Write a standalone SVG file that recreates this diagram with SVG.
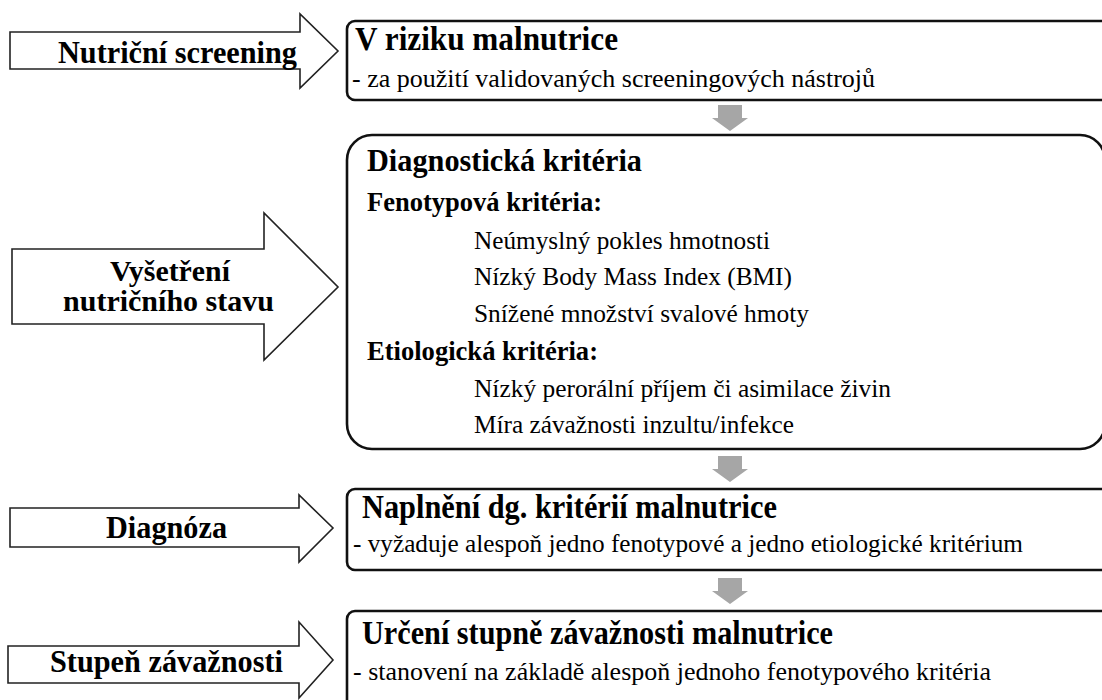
<svg xmlns="http://www.w3.org/2000/svg" width="1102" height="700" viewBox="0 0 1102 700">
<defs>
<path id="down-arrow" d="M-12,0 H12 V13 H18 L0,26 L-18,13 H-12 Z"/>
</defs>
<rect x="0" y="0" width="1102" height="700" fill="#fff"/>
<g id="step-screening">
<path d="M10,32 H300 V14 L338,51 L300,88 V69 H10 Z" fill="#fff" stroke="#222" stroke-width="1.6"/>
<text font-family="Liberation Serif" font-weight="bold" font-size="31" x="58" y="63" textLength="239" lengthAdjust="spacingAndGlyphs">Nutriční screening</text>
</g>
<g id="step-vysetreni">
<path d="M12,249 H264 V213 L338,287 L264,360 V324 H12 Z" fill="#fff" stroke="#222" stroke-width="1.6"/>
<text font-family="Liberation Serif" font-weight="bold" font-size="29" x="110" y="281" textLength="120" lengthAdjust="spacingAndGlyphs">Vyšetření</text>
<text font-family="Liberation Serif" font-weight="bold" font-size="29" x="63" y="311" textLength="211" lengthAdjust="spacingAndGlyphs">nutričního stavu</text>
</g>
<g id="step-diagnoza">
<path d="M10,508 H299 V495 L333,528 L299,562 V547 H10 Z" fill="#fff" stroke="#222" stroke-width="1.6"/>
<text font-family="Liberation Serif" font-weight="bold" font-size="31" x="106" y="538" textLength="121" lengthAdjust="spacingAndGlyphs">Diagnóza</text>
</g>
<g id="step-stupen">
<path d="M8,646 H299 V622 L333,660 L299,698 V683 H8 Z" fill="#fff" stroke="#222" stroke-width="1.6"/>
<text font-family="Liberation Serif" font-weight="bold" font-size="31" x="50" y="672" textLength="233" lengthAdjust="spacingAndGlyphs">Stupeň závažnosti</text>
</g>

<g id="box-riziko">
<rect x="347" y="21" width="800" height="79" rx="8" ry="8" fill="#fff" stroke="#111" stroke-width="2.6"/>
<text font-family="Liberation Serif" font-weight="bold" font-size="33" x="355" y="50" textLength="263" lengthAdjust="spacingAndGlyphs">V riziku malnutrice</text>
<text font-family="Liberation Serif" font-size="25" x="352" y="87" textLength="523" lengthAdjust="spacingAndGlyphs">- za použití validovaných screeningových nástrojů</text>
</g>
<g id="box-kriteria">
<rect x="347" y="135" width="758" height="314" rx="25" ry="25" fill="#fff" stroke="#111" stroke-width="2.6"/>
<text font-family="Liberation Serif" font-weight="bold" font-size="32" x="367" y="171" textLength="275" lengthAdjust="spacingAndGlyphs">Diagnostická kritéria</text>
<text font-family="Liberation Serif" font-weight="bold" font-size="28" x="367" y="211" textLength="235" lengthAdjust="spacingAndGlyphs">Fenotypová kritéria:</text>
<text font-family="Liberation Serif" font-size="26" x="474" y="249" textLength="296" lengthAdjust="spacingAndGlyphs">Neúmyslný pokles hmotnosti</text>
<text font-family="Liberation Serif" font-size="26" x="474" y="285" textLength="318" lengthAdjust="spacingAndGlyphs">Nízký Body Mass Index (BMI)</text>
<text font-family="Liberation Serif" font-size="26" x="474" y="322" textLength="335" lengthAdjust="spacingAndGlyphs">Snížené množství svalové hmoty</text>
<text font-family="Liberation Serif" font-weight="bold" font-size="28" x="367" y="360" textLength="231" lengthAdjust="spacingAndGlyphs">Etiologická kritéria:</text>
<text font-family="Liberation Serif" font-size="26" x="474" y="397" textLength="417" lengthAdjust="spacingAndGlyphs">Nízký perorální příjem či asimilace živin</text>
<text font-family="Liberation Serif" font-size="26" x="474" y="433" textLength="320" lengthAdjust="spacingAndGlyphs">Míra závažnosti inzultu/infekce</text>
</g>
<g id="box-diagnoza">
<rect x="347" y="489" width="800" height="81" rx="8" ry="8" fill="#fff" stroke="#111" stroke-width="2.6"/>
<text font-family="Liberation Serif" font-weight="bold" font-size="33" x="362" y="518" textLength="415" lengthAdjust="spacingAndGlyphs">Naplnění dg. kritérií malnutrice</text>
<text font-family="Liberation Serif" font-size="25" x="353" y="552" textLength="670" lengthAdjust="spacingAndGlyphs">- vyžaduje alespoň jedno fenotypové a jedno etiologické kritérium</text>
</g>
<g id="box-stupen">
<rect x="347" y="611" width="800" height="120" rx="8" ry="8" fill="#fff" stroke="#111" stroke-width="2.6"/>
<text font-family="Liberation Serif" font-weight="bold" font-size="33" x="362" y="644" textLength="471" lengthAdjust="spacingAndGlyphs">Určení stupně závažnosti malnutrice</text>
<text font-family="Liberation Serif" font-size="25" x="353" y="680" textLength="638" lengthAdjust="spacingAndGlyphs">- stanovení na základě alespoň jednoho fenotypového kritéria</text>
</g>
<g id="connectors" fill="#a6a6a6">
<use href="#down-arrow" x="730" y="105"/>
<use href="#down-arrow" x="730" y="456"/>
<use href="#down-arrow" x="730" y="578"/>
</g>
</svg>
